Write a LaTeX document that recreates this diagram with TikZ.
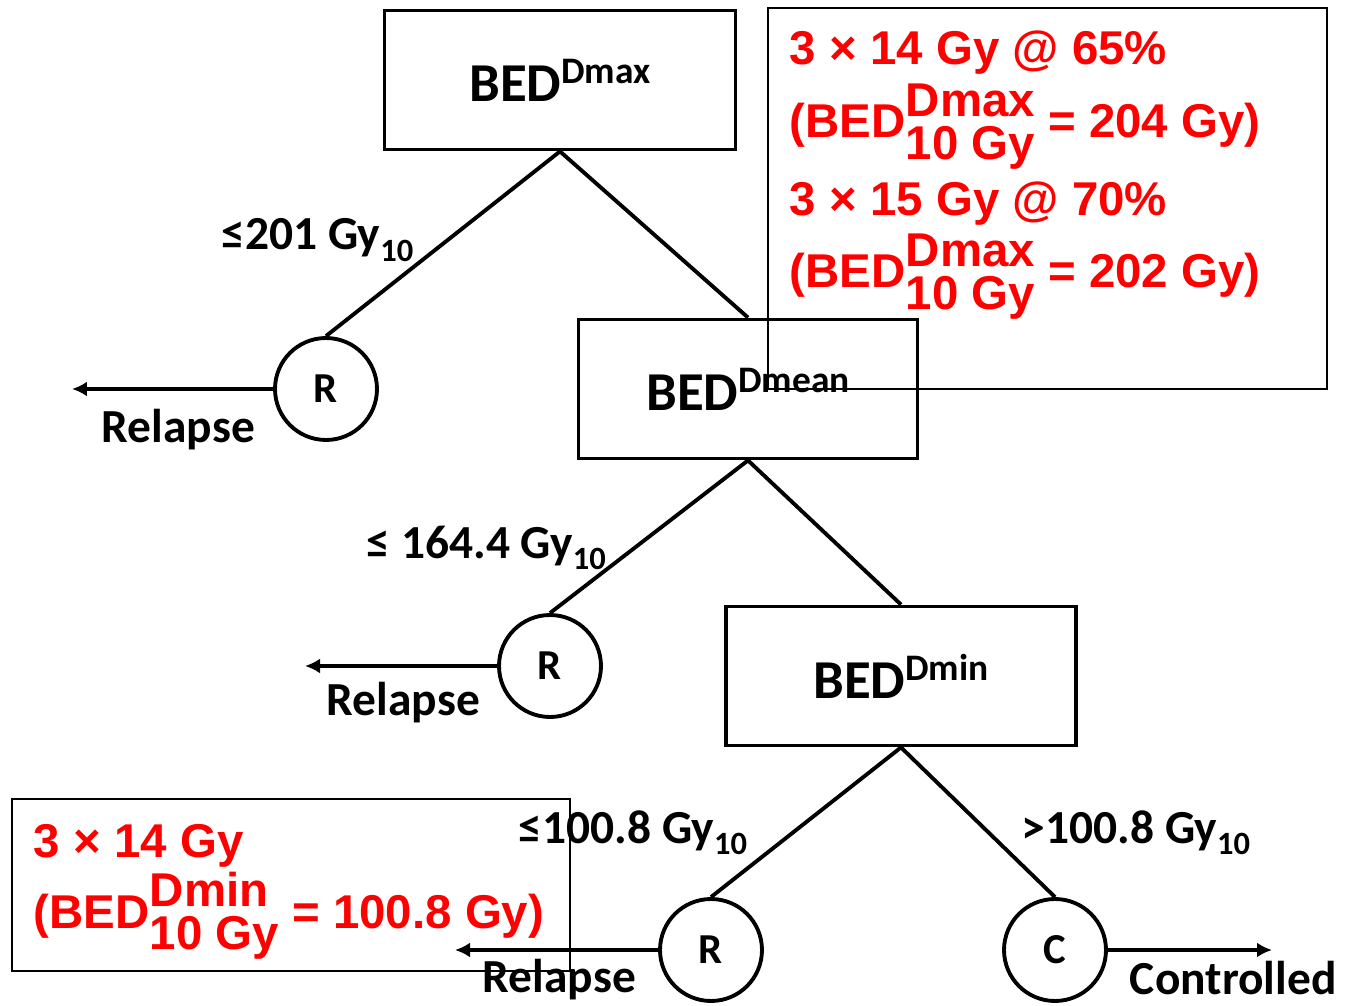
\documentclass[tikz,border=0pt]{standalone}
\usepackage{fontspec}
\setmainfont{Carlito}
\newfontfamily\redfont{Liberation Sans}
\usetikzlibrary{arrows.meta}

\newcommand\supbox[1]{\raisebox{10.2pt}{\fontsize{21.3}{21.3}\selectfont #1}}
\newcommand\gyten{Gy\raisebox{-6.5pt}{\fontsize{18.5}{18.5}\selectfont 10}}
\newcommand\bedstack[2]{BED\rlap{\raisebox{12pt}{#1}}\raisebox{-12.5pt}{#2}}

\begin{document}
\begin{tikzpicture}[x=0.02cm, y=-0.02cm, >={Latex[length=0.3cm, width=0.3cm]},
  line width=2.2pt,
  bedbox/.style={draw, inner sep=0pt, minimum width=#1, minimum height=2.78cm,
    font=\fontsize{31.2}{31.2}\selectfont\bfseries},
  endnode/.style={draw, circle, inner sep=0pt, minimum size=2.04cm,
    font=\fontsize{24.3}{24.3}\selectfont\bfseries},
  lbl/.style={anchor=base west, inner sep=0pt, font=\fontsize{27}{27}\selectfont\bfseries},
  infobox/.style={draw, line width=1.1pt},
  redtext/.style={anchor=base west, inner sep=0pt, text=red,
    font=\redfont\fontsize{27}{27}\selectfont\bfseries}]
  \useasboundingbox (0,0) rectangle (1345,1006);

  % decision boxes
  \node[bedbox=7.02cm] (dmax)  at (560,80)  {BED\supbox{Dmax}};
  \node[bedbox=6.78cm] (dmean) at (748,389) {BED\supbox{Dmean}};
  \node[bedbox=7.0cm]  (dmin)  at (901,676) {BED\supbox{Dmin}};

  % outcomes
  \node[endnode] (r1) at (326,389) {R};
  \node[endnode] (r2) at (550,666) {R};
  \node[endnode] (r3) at (711,950) {R};
  \node[endnode] (c)  at (1055,950) {C};

  \draw (dmax.south) -- (r1.north);
  \draw (dmax.south) -- (dmean.north);
  \draw (dmean.south) -- (r2.north);
  \draw (dmean.south) -- (dmin.north);
  \draw (dmin.south) -- (r3.north);
  \draw (dmin.south) -- (c.north);

  \coordinate (e1) at (72,389);
  \coordinate (e2) at (305,666);
  \coordinate (e3) at (455,950);
  \coordinate (e4) at (1272,950);
  \draw[->] (r1.west) -- (e1);
  \draw[->] (r2.west) -- (e2);
  \draw[->] (r3.west) -- (e3);
  \draw[->] (c.east) -- (e4);

  % labels
  \node[lbl] (t1) at (220,250) {≤201 \gyten};
  \node[lbl] (t2) at (365,558) {≤ 164.4 \gyten};
  \node[lbl] (t3) at (517,843) {≤100.8 \gyten};
  \node[lbl] (t4) at (1020,843) {>100.8 \gyten};
  \node[lbl] (o1) at (100,443) {Relapse};
  \node[lbl] (o2) at (325,715) {Relapse};
  \node[lbl] (o3) at (481,992) {Relapse};
  \node[lbl] (o4) at (1128,994) {Controlled};

  % prescriptions
  \draw[infobox] (768,8) rectangle (1327,389);
  \node[redtext] (p1) at (788,65)  {3 × 14 Gy @ 65\%};
  \node[redtext] (p2) at (788,138) {(\bedstack{Dmax}{10 Gy} = 204 Gy)};
  \node[redtext] (p3) at (788,216) {3 × 15 Gy @ 70\%};
  \node[redtext] (p4) at (788,288) {(\bedstack{Dmax}{10 Gy} = 202 Gy)};
  \draw[infobox] (12,799) rectangle (570,971);
  \node[redtext] (p5) at (32,857)  {3 × 14 Gy};
  \node[redtext] (p6) at (32,928)  {(\bedstack{Dmin}{10 Gy} = 100.8 Gy)};
\end{tikzpicture}
\end{document}
